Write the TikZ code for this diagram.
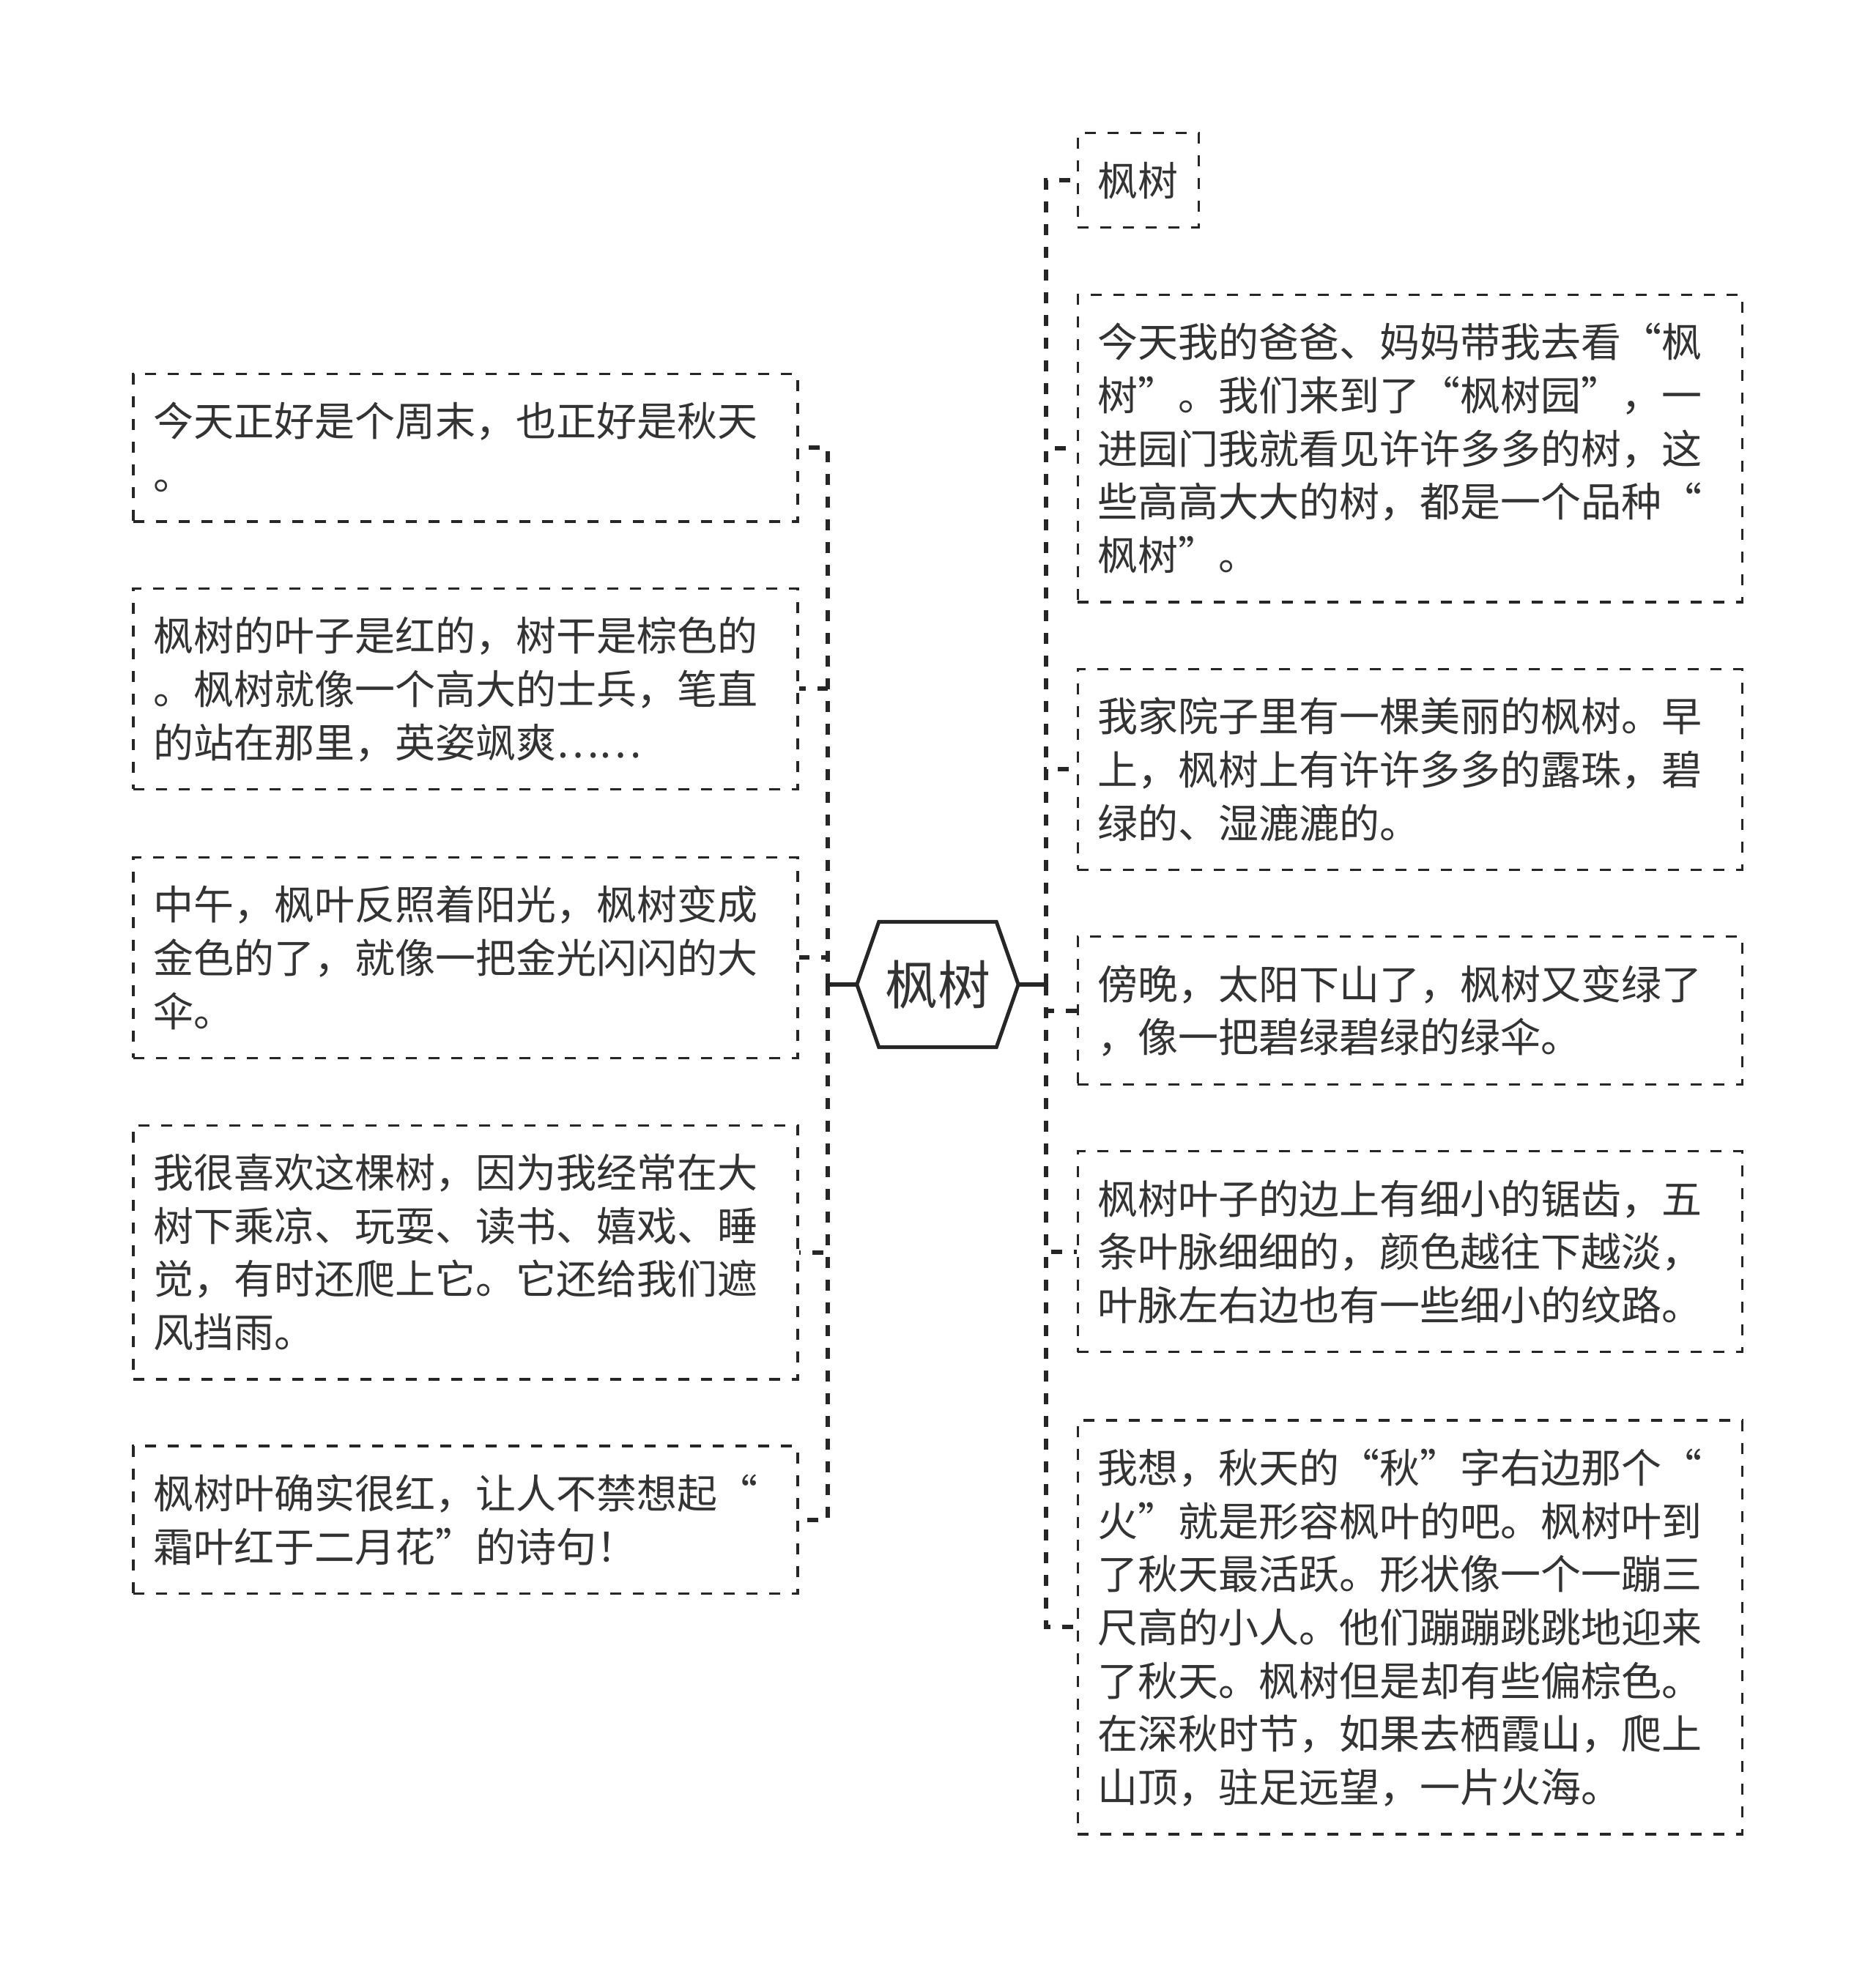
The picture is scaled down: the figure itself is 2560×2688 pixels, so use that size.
\documentclass[tikz,border=0pt]{standalone}
\usepackage{fontspec}
\newfontfamily\cjk{Noto Sans CJK SC}
\definecolor{ink}{HTML}{333333}
\definecolor{linec}{HTML}{262626}
\newcommand\zs{\rule[-15.35pt]{0pt}{72.7pt}}
\begin{document}
\begin{tikzpicture}[x=1pt,y=-1pt,
  leaf/.style={draw=linec, line width=3.3pt, dash pattern=on 15pt off 16pt, text=ink,
    font=\cjk\fontsize{55}{72.7}\selectfont, align=left, inner xsep=27.5pt, inner ysep=28pt},
  wide/.style={text width=852pt},
  conn/.style={draw=linec, line width=6pt, dash pattern=on 15pt off 16pt},
  stub/.style={draw=linec, line width=6pt}]
\useasboundingbox[fill=white] (0,0) rectangle (2560,2688);
% root
\node[minimum width=220pt, minimum height=171pt, inner sep=0pt, text=ink,
  font=\cjk\fontsize{72}{86}\selectfont] (root) at (1280,1344) {\rule[-13pt]{0pt}{80pt}枫树};
\draw[linec, line width=5pt, line join=miter] (root.west) -- ([xshift=30pt]root.north west)
  -- ([xshift=-30pt]root.north east) -- (root.east) -- ([xshift=-30pt]root.south east)
  -- ([xshift=30pt]root.south west) -- cycle;
% left leaves
\node[leaf, wide, anchor=east] (l1) at (1090.6,611.3) {\zs 今天正好是个周末，也正好是秋天\\\zs 。};
\node[leaf, wide, anchor=east] (l2) at (1090.6,940.4) {\zs 枫树的叶子是红的，树干是棕色的\\\zs 。枫树就像一个高大的士兵，笔直\\\zs 的站在那里，英姿飒爽……};
\node[leaf, wide, anchor=east] (l3) at (1090.6,1307.4) {\zs 中午，枫叶反照着阳光，枫树变成\\\zs 金色的了，就像一把金光闪闪的大\\\zs 伞。};
\node[leaf, wide, anchor=east] (l4) at (1090.6,1709.6) {\zs 我很喜欢这棵树，因为我经常在大\\\zs 树下乘凉、玩耍、读书、嬉戏、睡\\\zs 觉，有时还爬上它。它还给我们遮\\\zs 风挡雨。};
\node[leaf, wide, anchor=east] (l5) at (1090.6,2074.8) {\zs 枫树叶确实很红，让人不禁想起“\\\zs 霜叶红于二月花”的诗句！};
% right leaves
\node[leaf, anchor=west] (r1) at (1469.5,246.1) {\zs 枫树};
\node[leaf, wide, anchor=west] (r2) at (1469.5,612.2) {\zs 今天我的爸爸、妈妈带我去看“枫\\\zs 树”。我们来到了“枫树园”，一\\\zs 进园门我就看见许许多多的树，这\\\zs 些高高大大的树，都是一个品种“\\\zs 枫树”。};
\node[leaf, wide, anchor=west] (r3) at (1469.5,1050.3) {\zs 我家院子里有一棵美丽的枫树。早\\\zs 上，枫树上有许许多多的露珠，碧\\\zs 绿的、湿漉漉的。};
\node[leaf, wide, anchor=west] (r4) at (1469.5,1379.5) {\zs 傍晚，太阳下山了，枫树又变绿了\\\zs ，像一把碧绿碧绿的绿伞。};
\node[leaf, wide, anchor=west] (r5) at (1469.5,1708.7) {\zs 枫树叶子的边上有细小的锯齿，五\\\zs 条叶脉细细的，颜色越往下越淡，\\\zs 叶脉左右边也有一些细小的纹路。};
\node[leaf, wide, anchor=west] (r6) at (1469.5,2221.4) {\zs 我想，秋天的“秋”字右边那个“\\\zs 火”就是形容枫叶的吧。枫树叶到\\\zs 了秋天最活跃。形状像一个一蹦三\\\zs 尺高的小人。他们蹦蹦跳跳地迎来\\\zs 了秋天。枫树但是却有些偏棕色。\\\zs 在深秋时节，如果去栖霞山，爬上\\\zs 山顶，驻足远望，一片火海。};
% connectors
\coordinate (lt) at (1130,1344);
\coordinate (rt) at (1428,1344);
\draw[stub] (root.west) -- (lt);
\draw[stub] (root.east) -- (rt);
\foreach \n in {l1,l2,l3,l4,l5} \draw[conn] (lt) |- (\n.east);
\foreach \n in {r1,r2,r3,r4,r5,r6} \draw[conn] (rt) |- (\n.west);
\end{tikzpicture}
\end{document}
